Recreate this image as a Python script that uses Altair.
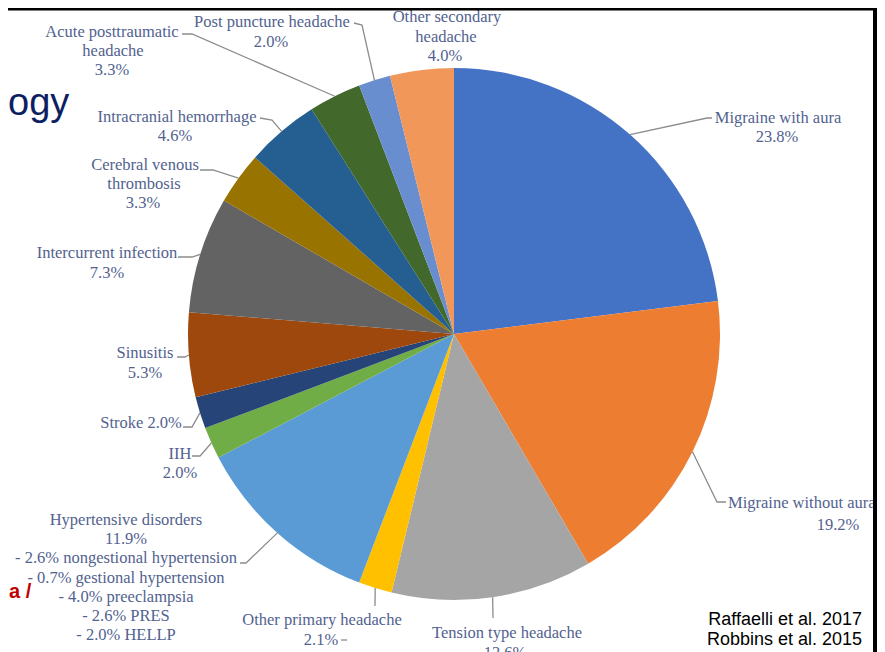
import math
import altair as alt
import pandas as pd

# ---------------- data ----------------
categories = [
    "Migraine with aura", "Migraine without aura", "Tension type headache",
    "Other primary headache", "Hypertensive disorders", "IIH", "Stroke",
    "Sinusitis", "Intercurrent infection", "Cerebral venous thrombosis",
    "Intracranial hemorrhage", "Acute posttraumatic headache",
    "Post puncture headache", "Other secondary headache",
]
values = [23.8, 19.2, 12.6, 2.1, 11.9, 2.0, 2.0, 5.3, 7.3, 3.3, 4.6, 3.3, 2.0, 4.0]
hypertensive_breakdown = [
    "- 2.6% nongestional hypertension", "- 0.7% gestional hypertension",
    "- 4.0% preeclampsia", "- 2.6% PRES", "- 2.0% HELLP",
]
source_notes = ["Raffaelli et al. 2017", "Robbins et al. 2015"]
slide_fragments = ["ogy", "a /"]

# ---------------- style / layout ----------------
colors = ["#4472C4", "#ED7D31", "#A5A5A5", "#FFC000", "#5B9BD5", "#70AD47",
          "#264478", "#9E480E", "#636363", "#997300", "#255E91", "#43682B",
          "#698ED0", "#F1975A"]
OFF = 8            # page margin
W, H = 869, 644    # drawing area
CX, CY, R = 454, 334, 266
LABEL_COLOR = "#52628f"
LEADER_COLOR = "#8c8c8c"

wraps = {
    "Cerebral venous thrombosis": ["Cerebral venous", "thrombosis"],
    "Acute posttraumatic headache": ["Acute posttraumatic", "headache"],
    "Other secondary headache": ["Other secondary", "headache"],
}
# label line anchors (page px); optional third item = alignment
label_pos = {
    "Migraine with aura": [(778, 118), (777, 137)],
    "Migraine without aura": [(728, 503, "left"), (838, 525)],
    "Tension type headache": [(507, 633), (505, 653)],
    "Other primary headache": [(322, 620), (321, 640)],
    "Hypertensive disorders": [(126, 520 + 19.2 * k) for k in range(7)],
    "IIH": [(180, 454), (180, 473)],
    "Stroke": [(141, 423)],
    "Sinusitis": [(145, 353), (145, 373)],
    "Intercurrent infection": [(107, 253), (107, 273)],
    "Cerebral venous thrombosis": [(145, 165), (144, 184), (143, 203)],
    "Intracranial hemorrhage": [(177, 117), (175, 136)],
    "Acute posttraumatic headache": [(112, 32), (113, 51), (112, 70)],
    "Post puncture headache": [(272, 22), (271, 42)],
    "Other secondary headache": [(447, 17), (446, 37), (445, 56)],
}
leader_pts = {
    "Migraine with aura": [(707, 118), (712, 118)],
    "Migraine without aura": [(717, 502), (726, 502)],
    "Tension type headache": [(493, 618)],
    "Other primary headache": [(375, 606)],
    "Hypertensive disorders": [(246, 563), (240, 563)],
    "IIH": [(200, 456), (192, 456)],
    "Stroke": [(192, 427), (183, 427)],
    "Sinusitis": [(185, 357), (177, 357)],
    "Intercurrent infection": [(192, 257), (178, 257)],
    "Cerebral venous thrombosis": [(213, 170), (200, 170)],
    "Intracranial hemorrhage": [(272, 120), (260, 118)],
    "Acute posttraumatic headache": [(192, 34), (182, 34)],
    "Post puncture headache": [(362, 25), (354, 23)],
}
extra_ticks = {"Other primary headache": [(341, 640), (347, 640)]}

# ---------------- tables ----------------
pie_df = pd.DataFrame({"cat": categories, "value": values, "idx": range(len(values))})

total = sum(values)
rows_t, rows_l = [], []
cum = 0.0
for cat, v in zip(categories, values):
    pct = f"{v:.1f}%"
    if cat == "Stroke":
        lines = [f"Stroke {pct}"]
    elif cat == "Hypertensive disorders":
        lines = [cat, pct] + hypertensive_breakdown
    else:
        lines = wraps.get(cat, [cat]) + [pct]
    for txt, pos in zip(lines, label_pos[cat]):
        align = pos[2] if len(pos) > 2 else "center"
        rows_t.append({"x": pos[0], "y": pos[1], "text": txt, "align": align})
    a = (cum + v / 2) / total * 2 * math.pi
    cum += v
    if cat in leader_pts:
        pts = [(CX + R * math.sin(a), CY - R * math.cos(a))] + leader_pts[cat]
        for k, (x, y) in enumerate(pts):
            rows_l.append({"cat": cat, "k": k, "x": x, "y": y})
    if cat in extra_ticks:
        for k, (x, y) in enumerate(extra_ticks[cat]):
            rows_l.append({"cat": cat + " tick", "k": k, "x": x, "y": y})

text_df = pd.DataFrame(rows_t)
lead_df = pd.DataFrame(rows_l)
notes_df = pd.DataFrame({"x": [862, 862], "y": [620, 640], "text": source_notes})

xs = alt.Scale(domain=[OFF, OFF + W], nice=False, zero=False)
ys = alt.Scale(domain=[OFF, OFF + H], nice=False, zero=False, reverse=True)

def X(f="x:Q"):
    return alt.X(f, scale=xs, axis=None)

def Y(f="y:Q"):
    return alt.Y(f, scale=ys, axis=None)

pie = alt.Chart(pie_df).mark_arc(outerRadius=R).encode(
    theta=alt.Theta("value:Q", stack=True),
    order=alt.Order("idx:Q", sort="ascending"),
    color=alt.Color("cat:N", scale=alt.Scale(domain=categories, range=colors), legend=None),
    x=alt.value(CX - OFF),
    y=alt.value(CY - OFF),
)

leaders = alt.Chart(lead_df).mark_line(color=LEADER_COLOR, strokeWidth=1.3).encode(
    x=X(), y=Y(), detail="cat:N", order="k:Q"
)

def label_layer(al):
    return alt.Chart(text_df[text_df["align"] == al]).mark_text(
        font="Liberation Serif", fontSize=16.5, color=LABEL_COLOR,
        align=al, baseline="middle"
    ).encode(x=X(), y=Y(), text="text:N")

labels_c = label_layer("center")
labels_l = label_layer("left")

notes = alt.Chart(notes_df).mark_text(
    font="Liberation Sans", fontSize=18, color="#000000",
    align="right", baseline="middle"
).encode(x=X(), y=Y(), text="text:N")

frag_df = pd.DataFrame({"x": [8, 9], "y": [104, 592], "text": slide_fragments,
                        "kind": ["title", "red"]})
title_frag = alt.Chart(frag_df[frag_df.kind == "title"]).mark_text(
    font="Liberation Sans", fontSize=38, color="#0d1f63", align="left", baseline="middle"
).encode(x=X(), y=Y(), text="text:N")
red_frag = alt.Chart(frag_df[frag_df.kind == "red"]).mark_text(
    font="Liberation Sans", fontSize=20, fontWeight="bold", color="#c00000",
    align="left", baseline="middle"
).encode(x=X(), y=Y(), text="text:N")

border_top = alt.Chart(pie_df.head(1)).mark_rule(color="#000000", strokeWidth=5).encode(
    x=alt.value(0), x2=alt.value(W), y=alt.value(0)
)
border_right = alt.Chart(pie_df.head(1)).mark_rule(color="#000000", strokeWidth=8).encode(
    x=alt.value(W), y=alt.value(0), y2=alt.value(H)
)

chart = alt.layer(
    pie, leaders, labels_c, labels_l, notes, title_frag, red_frag, border_top, border_right
).properties(
    width=W, height=H, padding=0, autosize=alt.AutoSizeParams(type="none")
).configure_view(stroke=None)

chart.save("out.html", embed_options={"renderer": "svg", "actions": False})
